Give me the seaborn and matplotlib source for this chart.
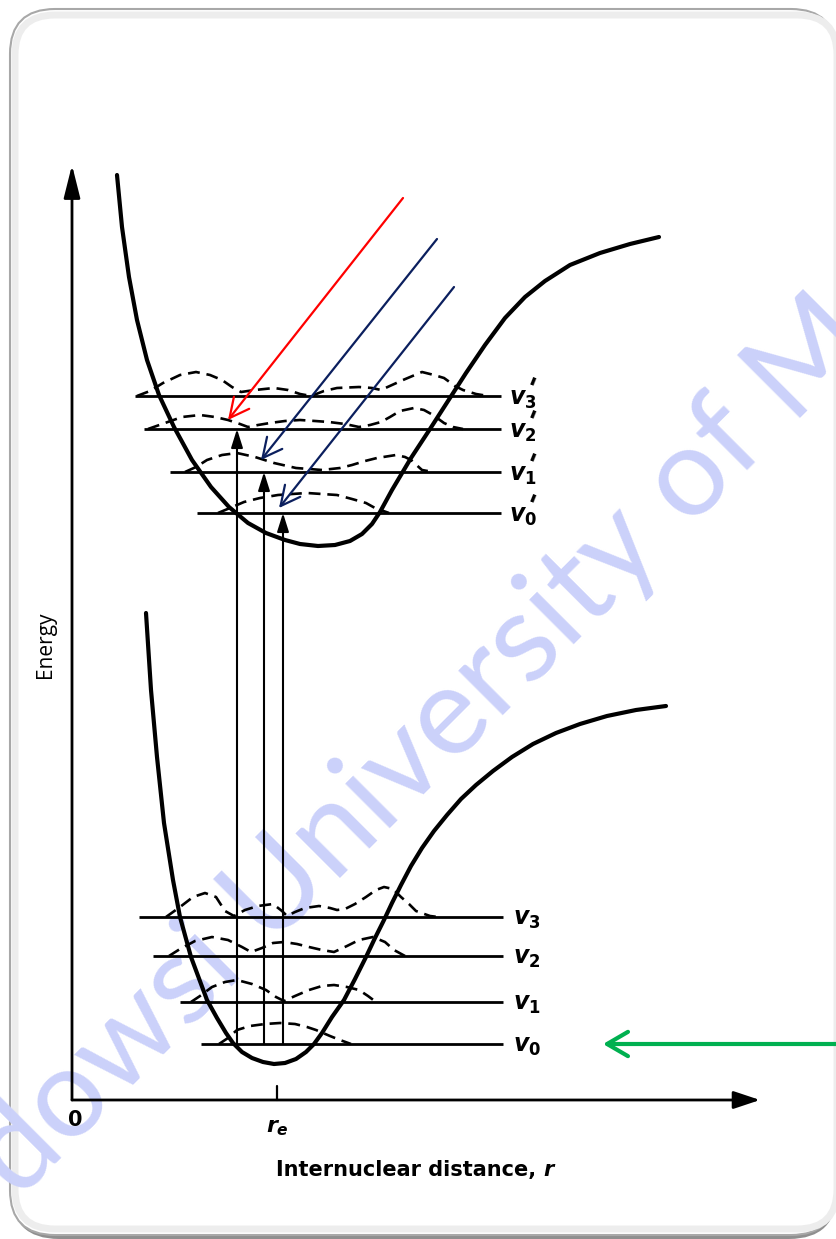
import matplotlib
matplotlib.use("Agg")
import matplotlib.pyplot as plt
import seaborn as sns
import pandas as pd
from matplotlib.patches import FancyBboxPatch

# ---------------- data (diagram units: r along x, E along y) ----------------
upper_r = [45, 50, 57, 65, 75, 87, 102, 120, 139, 157, 176, 194, 213, 228, 246, 263, 278, 290, 300, 308, 320,
           339, 358, 376, 394, 413, 433, 453, 473, 498, 528, 558, 587]
upper_E = [925, 873, 823, 780, 740, 705, 673, 640, 613, 593, 577, 567, 560, 556, 554, 555, 559, 566, 576, 588, 610,
           642, 671, 699, 727, 755, 782, 803, 819, 835, 847, 856, 863]

lower_r = [74, 79, 85, 92, 101, 108, 119, 135, 145, 154, 161, 170, 180, 191, 202, 213, 224, 234, 242, 250, 260,
           272, 283, 294, 303, 312, 320, 329, 339, 350, 362, 375, 389, 404, 421, 440, 461, 484, 508, 535, 564, 594]
lower_E = [487, 410, 343, 277, 220, 183, 143, 100, 82, 67, 57, 48, 42, 38, 36, 37, 41, 48, 56, 67, 83,
           100, 121, 143, 162, 180, 197, 215, 234, 252, 269, 285, 301, 315, 329, 343, 356, 367, 376, 384, 390, 394]

upper_levels_E = [587, 628, 671, 704]
upper_levels_start = [125, 98, 72, 63]
upper_levels_end = 429
upper_labels = [r"$v_{0}$", r"$v_{1}$", r"$v_{2}$", r"$v_{3}$"]

lower_levels_E = [56, 98, 144, 183]
lower_levels_start = [129, 108, 81, 67]
lower_levels_end = 431
lower_labels = [r"$v_{0}$", r"$v_{1}$", r"$v_{2}$", r"$v_{3}$"]

# vibrational probability curves (r, height above level)
wf_u0_r = [146, 158, 172, 188, 206, 220, 235, 250, 265, 280, 294, 303, 317]
wf_u0_h = [0, 5, 11, 15, 18, 19, 20, 19, 18, 14, 10, 5, 0]
wf_u1_r = [113, 124, 135, 150, 165, 183, 202, 224, 250, 268, 280, 293, 305, 324, 333, 339, 350, 361]
wf_u1_h = [0, 5, 12, 17, 19, 15, 9, 4, 2, 4, 7, 11, 14, 17, 15, 12, 2, 0]
wf_u2_r = [76, 93, 110, 128, 143, 156, 168, 176, 186, 198, 213, 228, 243, 257, 273, 287, 298, 309, 318,
           328, 342, 352, 361, 372, 381, 391]
wf_u2_h = [0, 6, 12, 14, 12, 9, 5, 2, 4, 6, 8, 9, 8, 7, 5, 2, 4, 7, 12, 18, 21, 19, 14, 6, 2, 0]
wf_u3_r = [65, 78, 91, 108, 124, 138, 150, 160, 169, 183, 202, 216, 228, 239, 252, 265, 287, 300, 309,
           320, 331, 350, 362, 372, 383, 391, 404, 416]
wf_u3_h = [0, 5, 13, 21, 24, 21, 16, 9, 4, 6, 8, 6, 2, 0, 5, 8, 9, 8, 6, 11, 16, 24, 21, 18, 10, 6, 2, 0]

wf_l0_r = [147, 156, 165, 178, 193, 208, 223, 235, 244, 258, 268, 279]
wf_l0_h = [0, 6, 14, 18, 20, 21, 20, 17, 14, 8, 4, 0]
wf_l1_r = [119, 128, 140, 153, 165, 180, 194, 204, 212, 223, 237, 250, 262, 275, 287, 296, 304]
wf_l1_h = [0, 6, 15, 20, 22, 18, 12, 5, 1, 6, 12, 16, 17, 15, 12, 6, 0]
wf_l2_r = [97, 108, 123, 140, 156, 170, 179, 190, 201, 212, 225, 237, 250, 262, 275, 287, 301, 313, 322, 333]
wf_l2_h = [0, 7, 15, 19, 16, 9, 4, 8, 13, 14, 12, 9, 6, 4, 10, 16, 19, 14, 6, 0]
wf_l3_r = [94, 108, 121, 133, 144, 153, 162, 173, 186, 201, 210, 215, 223, 233, 247, 258, 265, 273, 283,
           294, 304, 312, 321, 329, 337, 344, 358, 366]
wf_l3_h = [0, 10, 20, 24, 20, 6, 1, 7, 11, 13, 6, 1, 5, 9, 11, 9, 7, 8, 13, 20, 27, 30, 28, 20, 13, 6, 1, 0]

# vertical transitions
trans_r = [165, 192, 211]
trans_from_E = 56
trans_to_E = [671, 628, 587]
r_e = 205

# annotation arrows (start r, start E, end r, end E)
red_arrow = [331, 902, 156, 680]
navy_arrows = [[365, 861, 189, 640], [382, 813, 207, 592]]
green_arrow = [764, 56, 531, 56]

# ---------------- figure ----------------
sns.set_theme(style="white")
plt.rcParams['text.color'] = 'black'
plt.rcParams['mathtext.fontset'] = 'custom'
plt.rcParams['mathtext.it'] = 'DejaVu Sans:italic:bold'
plt.rcParams['mathtext.rm'] = 'DejaVu Sans:bold'
plt.rcParams['mathtext.bf'] = 'DejaVu Sans:bold'

fig = plt.figure(figsize=(8.36, 12.39), dpi=100)
ax = fig.add_axes([0, 0, 1, 1])
ax.set_xlim(-72, 764)
ax.set_ylim(-139, 1100)
ax.axis('off')

# card background
shadow = FancyBboxPatch((-61, -139), 826, 1228, boxstyle="round,pad=0,rounding_size=48",
                        facecolor='#8f8f8f', edgecolor='none', zorder=0.05)
ax.add_patch(shadow)
card = FancyBboxPatch((-62, -135), 826, 1226, boxstyle="round,pad=0,rounding_size=45",
                      facecolor='white', edgecolor='#a8a8a8', lw=1.5, zorder=0.1)
ax.add_patch(card)
inner = FancyBboxPatch((-57, -129), 822, 1214, boxstyle="round,pad=0,rounding_size=40",
                       facecolor='none', edgecolor='#ededed', lw=5, zorder=0.15)
ax.add_patch(inner)

# watermark
ax.text(350, 353, "dowsi University of M", fontsize=90, family='Lato', color='#cbd1fa',
        rotation=45, rotation_mode='anchor', ha='center', va='center', zorder=0.5)

# potential curves
line_kw = dict(sort=False, estimator=None, color='black', lw=3.0, ax=ax, zorder=4,
               solid_joinstyle='round', solid_capstyle='round')
sns.lineplot(x=upper_r, y=upper_E, **line_kw)
sns.lineplot(x=lower_r, y=lower_E, **line_kw)

# levels
ax.hlines(upper_levels_E, upper_levels_start, upper_levels_end, color='black', lw=2.0, zorder=3)
ax.hlines(lower_levels_E, lower_levels_start, lower_levels_end, color='black', lw=2.0, zorder=3)
for E, lab in zip(upper_levels_E, upper_labels):
    ax.text(upper_levels_end + 8, E - 3, lab, fontsize=17, ha='left', va='center')
    ax.text(upper_levels_end + 27, E + 5, "'", fontsize=22, fontweight='bold',
            family='DejaVu Sans', rotation=-22, ha='center', va='center')
for E, lab in zip(lower_levels_E, lower_labels):
    ax.text(lower_levels_end + 10, E - 2, lab, fontsize=17, ha='left', va='center')

# probability curves
wfs = [(wf_u0_r, wf_u0_h, upper_levels_E[0]), (wf_u1_r, wf_u1_h, upper_levels_E[1]),
       (wf_u2_r, wf_u2_h, upper_levels_E[2]), (wf_u3_r, wf_u3_h, upper_levels_E[3]),
       (wf_l0_r, wf_l0_h, lower_levels_E[0]), (wf_l1_r, wf_l1_h, lower_levels_E[1]),
       (wf_l2_r, wf_l2_h, lower_levels_E[2]), (wf_l3_r, wf_l3_h, lower_levels_E[3])]
for rr, hh, E0 in wfs:
    df = pd.DataFrame({'r': rr, 'E': [E0 + h for h in hh]})
    sns.lineplot(data=df, x='r', y='E', sort=False, estimator=None, color='black', lw=1.9,
                 linestyle=(0, (4.5, 2.6)), ax=ax, zorder=3)

# vertical transitions
for r, Et in zip(trans_r, trans_to_E):
    ax.annotate("", xy=(r, Et), xytext=(r, trans_from_E),
                arrowprops=dict(arrowstyle='-|>,head_length=0.7,head_width=0.22', color='black',
                                lw=1.5, mutation_scale=16, shrinkA=0, shrinkB=0), zorder=5)

# axes with arrows
ax.annotate("", xy=(0, 935), xytext=(0, 0),
            arrowprops=dict(arrowstyle='-|>,head_length=1.0,head_width=0.25', color='black',
                            lw=2, mutation_scale=20, shrinkA=0, shrinkB=0))
ax.annotate("", xy=(688, 0), xytext=(0, 0),
            arrowprops=dict(arrowstyle='-|>,head_length=0.9,head_width=0.3', color='black',
                            lw=2, mutation_scale=18, shrinkA=0, shrinkB=0))
ax.plot([r_e, r_e], [0, 14], color='black', lw=1.6)

ax.text(3, -20, "0", fontsize=15, fontweight='bold', ha='center', va='center')
ax.text(r_e, -28, r"$r_e$", fontsize=16, ha='center', va='center')
t = ax.text(338, -70, "Internuclear distance, ", fontsize=15, fontweight='bold',
            ha='center', va='center')
ax.annotate("r", xy=(1, 0), xycoords=t, xytext=(0, 0), textcoords='offset points',
            fontsize=15, fontweight='bold', fontstyle='italic', ha='left', va='bottom')
ax.text(-26, 455, "Energy", rotation=90, fontsize=15, family='Open Sans',
        ha='center', va='center')

# coloured annotation arrows
ax.annotate("", xy=(red_arrow[2], red_arrow[3]), xytext=(red_arrow[0], red_arrow[1]),
            arrowprops=dict(arrowstyle='->,head_length=0.7,head_width=0.35', color='#ff0000',
                            lw=1.6, mutation_scale=20, shrinkA=0, shrinkB=0), zorder=6)
for a in navy_arrows:
    ax.annotate("", xy=(a[2], a[3]), xytext=(a[0], a[1]),
                arrowprops=dict(arrowstyle='->,head_length=0.7,head_width=0.35', color='#0b1f5e',
                                lw=1.6, mutation_scale=20, shrinkA=0, shrinkB=0), zorder=6)
ax.annotate("", xy=(green_arrow[2], green_arrow[3]), xytext=(green_arrow[0], green_arrow[1]),
            arrowprops=dict(arrowstyle='->,head_length=0.6,head_width=0.35', color='#00b050',
                            lw=3, mutation_scale=25, shrinkA=0, shrinkB=0), zorder=6)

fig.savefig("out.png", dpi=100)
